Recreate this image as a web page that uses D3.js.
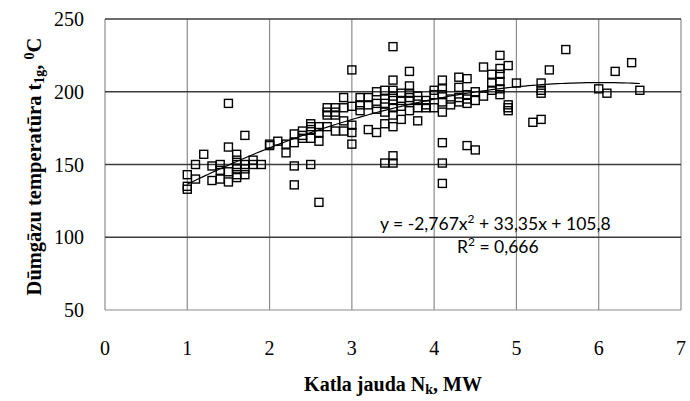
<!DOCTYPE html>
<html>
<head>
<meta charset="utf-8">
<script src="https://cdn.jsdelivr.net/npm/d3@7"></script>
<style>
  body { margin: 0; background: #fff; }
  svg { display: block; }
</style>
</head>
<body>
<div id="chart"></div>
<script>
// boiler load N_k (MW) vs flue gas temperature t_1g (C)
const loadMW = [
  1.0, 1.0, 1.0, 1.1, 1.1, 1.2, 1.3, 1.3, 1.4, 1.4, 1.4, 1.5, 1.5, 1.5, 1.5,
  1.6, 1.6, 1.6, 1.6, 1.6, 1.6, 1.7, 1.7, 1.7, 1.7, 1.8, 1.8, 1.9, 2.0, 2.0,
  2.1, 2.2, 2.2, 2.3, 2.3, 2.3, 2.3, 2.4, 2.4, 2.4, 2.5, 2.5, 2.5, 2.5, 2.5,
  2.6, 2.6, 2.6, 2.6, 2.7, 2.7, 2.7, 2.7, 2.8, 2.8, 2.8, 2.8, 2.9, 2.9, 2.9,
  2.9, 3.0, 3.0, 3.0, 3.0, 3.0, 3.1, 3.1, 3.1, 3.2, 3.2, 3.2, 3.3, 3.3, 3.3,
  3.3, 3.4, 3.4, 3.4, 3.4, 3.4, 3.4, 3.5, 3.5, 3.5, 3.5, 3.5, 3.5, 3.5, 3.5,
  3.5, 3.5, 3.6, 3.6, 3.6, 3.6, 3.7, 3.7, 3.7, 3.7, 3.7, 3.7, 3.8, 3.8, 3.8,
  3.8, 3.9, 3.9, 3.9, 4.0, 4.0, 4.0, 4.1, 4.1, 4.1, 4.1, 4.1, 4.1, 4.1, 4.1,
  4.2, 4.2, 4.3, 4.3, 4.3, 4.3, 4.4, 4.4, 4.4, 4.4, 4.4, 4.5, 4.5, 4.5, 4.6,
  4.6, 4.7, 4.7, 4.7, 4.8, 4.8, 4.8, 4.8, 4.8, 4.8, 4.9, 4.9, 4.9, 4.9, 5.0,
  5.2, 5.3, 5.3, 5.3, 5.3, 5.4, 5.6, 6.0, 6.1, 6.2, 6.4, 6.5
];
const flueTemp = [
  143, 135, 133, 150, 140, 157, 149, 139, 150, 140, 146, 192, 162, 138, 145,
  157, 153, 150, 147, 143, 141, 170, 150, 147, 143, 153, 150, 150, 164, 163,
  166, 158, 164, 171, 165, 149, 136, 173, 168, 170, 178, 174, 168, 150, 176,
  124, 176, 166, 172, 189, 184, 176, 186, 189, 184, 173, 186, 196, 189, 173,
  180, 215, 164, 177, 172, 190, 196, 191, 187, 196, 191, 174, 200, 192, 172,
  188, 201, 192, 178, 151, 195, 186, 231, 208, 201, 194, 189, 184, 176, 156,
  151, 197, 199, 194, 181, 190, 214, 204, 199, 194, 187, 196, 194, 189, 180,
  197, 194, 189, 191, 201, 198, 189, 208, 202, 198, 193, 186, 165, 151, 137,
  191, 195, 210, 203, 196, 193, 209, 198, 192, 163, 195, 200, 194, 160, 217,
  197, 212, 206, 201, 225, 216, 212, 207, 202, 198, 218, 191, 189, 187, 206,
  179, 181, 206, 201, 199, 215, 229, 202, 199, 214, 220, 201
];

const xTicks = [0, 1, 2, 3, 4, 5, 6, 7];
const yTicks = [50, 100, 150, 200, 250];

// polynomial trendline y = a x^2 + b x + c
const trendCoef = [-2.767, 33.35, 105.8];
const trendRange = [1.0, 6.5];

const width = 690, height = 401;
const plot = { left: 105, right: 681, top: 19, bottom: 310 };

const svg = d3.select("#chart").append("svg")
  .attr("width", width)
  .attr("height", height);

const x = d3.scaleLinear().domain([0, 7]).range([plot.left, plot.right]);
const y = d3.scaleLinear().domain([50, 250]).range([plot.bottom, plot.top]);

// grid: vertical lines light grey, horizontal ones darker
svg.append("g").selectAll("line")
  .data(xTicks)
  .join("line")
  .attr("x1", d => x(d)).attr("x2", d => x(d))
  .attr("y1", plot.top).attr("y2", plot.bottom)
  .attr("stroke", "#8c8c8c")
  .attr("stroke-width", 1.2);

svg.append("g").selectAll("line")
  .data(yTicks)
  .join("line")
  .attr("x1", plot.left).attr("x2", plot.right)
  .attr("y1", d => y(d)).attr("y2", d => y(d))
  .attr("stroke", d => d === 50 ? "#8c8c8c" : "#3c3c3c")
  .attr("stroke-width", d => d === 50 ? 1.2 : 1.5);

// tick labels
svg.append("g").selectAll("text")
  .data(xTicks)
  .join("text")
  .attr("x", d => x(d))
  .attr("y", 355)
  .attr("text-anchor", "middle")
  .style("font-family", "'Liberation Serif', 'Times New Roman', serif")
  .style("font-size", "20px")
  .text(d => d);

svg.append("g").selectAll("text")
  .data(yTicks)
  .join("text")
  .attr("x", 84)
  .attr("y", d => y(d) + 7)
  .attr("text-anchor", "end")
  .style("font-family", "'Liberation Serif', 'Times New Roman', serif")
  .style("font-size", "20px")
  .text(d => d);

// scatter markers (hollow squares)
const s = 8;
svg.append("g").selectAll("rect")
  .data(d3.range(loadMW.length))
  .join("rect")
  .attr("x", i => x(loadMW[i]) - s / 2)
  .attr("y", i => y(flueTemp[i]) - s / 2)
  .attr("width", s)
  .attr("height", s)
  .attr("fill", "none")
  .attr("stroke", "#000")
  .attr("stroke-width", 1.4);

// trendline
const trend = d3.range(trendRange[0], trendRange[1] + 0.001, 0.05)
  .map(v => [v, trendCoef[0] * v * v + trendCoef[1] * v + trendCoef[2]]);
svg.append("path")
  .datum(trend)
  .attr("fill", "none")
  .attr("stroke", "#000")
  .attr("stroke-width", 1.2)
  .attr("d", d3.line().x(d => x(d[0])).y(d => y(d[1])));

// equation labels
const eq = svg.append("text")
  .attr("x", 380)
  .attr("y", 230)
  .style("font-family", "Lato, 'Open Sans', sans-serif")
  .style("font-size", "17.5px");
eq.append("tspan").text("y = -2,767x");
eq.append("tspan").attr("baseline-shift", "super").style("font-size", "12px").text("2");
eq.append("tspan").text(" + 33,35x + 105,8");

const r2 = svg.append("text")
  .attr("x", 457)
  .attr("y", 253)
  .style("font-family", "Lato, 'Open Sans', sans-serif")
  .style("font-size", "17.5px");
r2.append("tspan").text("R");
r2.append("tspan").attr("baseline-shift", "super").style("font-size", "12px").text("2");
r2.append("tspan").text(" = 0,666");

// axis titles
const xt = svg.append("text")
  .attr("x", (plot.left + plot.right) / 2)
  .attr("y", 391)
  .attr("text-anchor", "middle")
  .style("font-family", "'Liberation Serif', 'Times New Roman', serif")
  .style("font-size", "20px")
  .style("font-weight", "bold");
xt.append("tspan").text("Katla jauda N");
xt.append("tspan").attr("baseline-shift", "-3px").style("font-size", "14px").text("k");
xt.append("tspan").text(", MW");

const yt = svg.append("text")
  .attr("transform", `translate(41,${(plot.top + plot.bottom) / 2 + 2}) rotate(-90)`)
  .attr("text-anchor", "middle")
  .style("font-family", "'Liberation Serif', 'Times New Roman', serif")
  .style("font-size", "20.5px")
  .style("font-weight", "bold");
yt.append("tspan").text("Dūmgāzu temperatūra t");
yt.append("tspan").attr("baseline-shift", "-3px").style("font-size", "14px").text("1g");
yt.append("tspan").text(", ");
yt.append("tspan").attr("baseline-shift", "super").style("font-size", "14px").text("0");
yt.append("tspan").text("C");
</script>
</body>
</html>
